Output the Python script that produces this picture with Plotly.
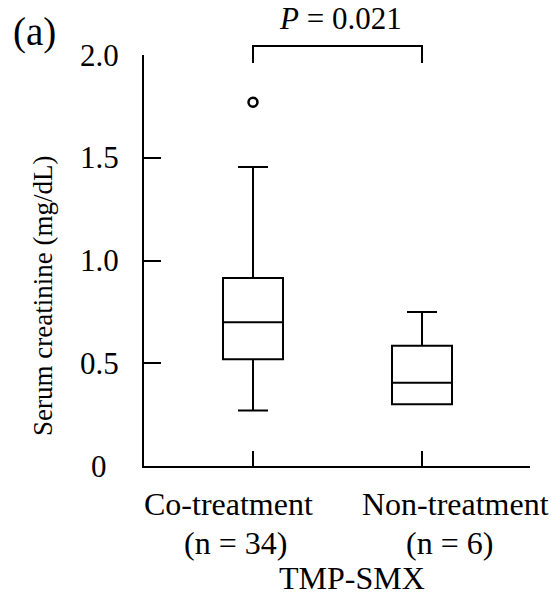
import plotly.graph_objects as go

# Serum creatinine by TMP-SMX co-treatment status (box summaries)
groups = ["Co-treatment", "Non-treatment"]
group_n = [34, 6]
q1 = [0.52, 0.30]
median = [0.70, 0.405]
q3 = [0.915, 0.585]
lower_whisker = [0.27, 0.30]
upper_whisker = [1.455, 0.75]
outlier_group = ["Co-treatment"]
outlier_value = [1.77]
y_ticks = [0, 0.5, 1.0, 1.5, 2.0]
y_tick_text = ["0", "0.5", "1.0", "1.5", "2.0"]
p_value = 0.021

FONT = "Liberation Serif, Times New Roman, serif"
W, H = 552, 597
M_L, M_R, M_T, M_B = 144, 22, 55, 131
PLOT_W = W - M_L - M_R
PLOT_H = H - M_T - M_B
X_RANGE = [-0.645, 1.639]


def px_x(px):
    return (px - M_L) / PLOT_W


def px_y(py):
    return (H - M_B - py) / PLOT_H


def cat_to_paper(i):
    return (i - X_RANGE[0]) / (X_RANGE[1] - X_RANGE[0])


fig = go.Figure()

fig.add_trace(go.Box(
    x=groups,
    q1=q1,
    median=median,
    q3=q3,
    lowerfence=lower_whisker,
    upperfence=upper_whisker,
    width=0.355,
    whiskerwidth=0.5,
    boxpoints=False,
    fillcolor="rgba(255,255,255,0)",
    line=dict(color="black", width=2),
    showlegend=False,
    hoverinfo="skip",
))

fig.add_trace(go.Scatter(
    x=outlier_group,
    y=outlier_value,
    mode="markers",
    marker=dict(symbol="circle-open", size=9, color="black", line=dict(width=2.5, color="black")),
    showlegend=False,
    hoverinfo="skip",
))

# significance bracket between the two groups
x0, x1 = cat_to_paper(0), cat_to_paper(1)
y_top, y_leg = px_y(46), px_y(63)
bracket = dict(type="path", xref="paper", yref="paper",
               path=f"M {x0},{y_leg} L {x0},{y_top} L {x1},{y_top} L {x1},{y_leg}",
               line=dict(color="black", width=2))

annotations = [
    dict(text=f"<i>P</i> = {p_value}", x=px_x(340), y=px_y(18), font=dict(size=31)),
    dict(text="(a)", x=px_x(34), y=px_y(32), font=dict(size=39)),
    dict(text="Serum creatinine (mg/dL)", x=px_x(43), y=px_y(296), textangle=-90, font=dict(size=27)),
    dict(text=groups[0], x=px_x(228), y=px_y(504), font=dict(size=32)),
    dict(text=f"(n = {group_n[0]})", x=px_x(235), y=px_y(543), font=dict(size=32)),
    dict(text=groups[1], x=px_x(455), y=px_y(504), font=dict(size=32)),
    dict(text=f"(n = {group_n[1]})", x=px_x(449), y=px_y(543), font=dict(size=32)),
    dict(text="TMP-SMX", x=px_x(352), y=px_y(578), font=dict(size=32)),
]
for a in annotations:
    a.update(xref="paper", yref="paper")

# y tick labels, centred in a column left of the axis
for val, txt in zip(y_ticks, y_tick_text):
    annotations.append(dict(text=txt, x=px_x(99), xref="paper", y=val, yref="y", font=dict(size=31)))

for a in annotations:
    a.update(showarrow=False, xanchor="center", yanchor="middle")
    a["font"].update(family=FONT, color="black")

fig.update_layout(
    width=W, height=H,
    margin=dict(l=M_L, r=M_R, t=M_T, b=M_B, pad=0),
    paper_bgcolor="white", plot_bgcolor="white",
    font=dict(family=FONT, color="black", size=29),
    shapes=[bracket],
    annotations=annotations,
    xaxis=dict(
        type="category", range=X_RANGE,
        showline=True, linecolor="black", linewidth=2,
        ticks="inside", ticklen=15, tickwidth=2, tickcolor="black",
        showticklabels=False, showgrid=False, zeroline=False, fixedrange=True,
    ),
    yaxis=dict(
        range=[0, 2.0],
        tickvals=y_ticks,
        showline=True, linecolor="black", linewidth=2,
        ticks="inside", ticklen=17, tickwidth=2, tickcolor="black",
        showticklabels=False,
        showgrid=False, zeroline=False, fixedrange=True,
    ),
)

fig.write_html("out.html")
